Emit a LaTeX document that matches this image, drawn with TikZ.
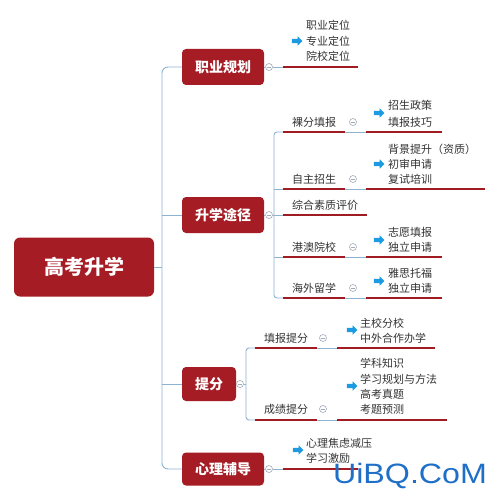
\documentclass[tikz,border=0pt]{standalone}
\usepackage{fontspec}
\setmainfont{Noto Sans CJK SC}
\newfontfamily\wmfont{Liberation Sans}
\usetikzlibrary{shapes.arrows}
\definecolor{boxred}{HTML}{A51C24}
\definecolor{linered}{HTML}{A01C22}
\definecolor{connblue}{HTML}{8DB3D3}
\definecolor{foldgray}{HTML}{A3AABA}
\definecolor{arrowblue}{HTML}{1E9BE0}
\definecolor{leafgray}{HTML}{333333}
\definecolor{wmblue}{HTML}{1F6FC8}
\tikzset{
  rootbox/.style={fill=boxred, rounded corners=6pt, text=white, inner sep=0pt,
    font=\bfseries\fontsize{20}{22}\selectfont, minimum width=140pt, minimum height=59pt},
  branchbox/.style={fill=boxred, rounded corners=4pt, text=white, inner sep=0pt,
    font=\bfseries\fontsize{14}{16}\selectfont, minimum width=82pt, minimum height=36pt},
  leaf/.style={anchor=west, inner sep=0pt, text=leafgray, font=\fontsize{11}{13}\selectfont},
  subitem/.style={inner sep=0pt, text=leafgray, font=\fontsize{11}{13}\selectfont},
  redline/.style={draw=linered, line width=2.5pt},
  conn/.style={draw=connblue, line width=0.9pt},
  fold/.style={circle, draw=foldgray, fill=white, line width=0.6pt, minimum size=7pt, inner sep=0pt,
    path picture={\draw[foldgray, line width=0.5pt]
      ([xshift=-1.8pt]path picture bounding box.center) -- ([xshift=1.8pt]path picture bounding box.center);}},
  blockarrow/.style={single arrow, fill=arrowblue, draw=none, inner xsep=0pt, inner ysep=2pt,
    minimum height=10.5pt, single arrow head extend=2.5pt, single arrow head indent=0pt},
}
\begin{document}
\begin{tikzpicture}[x=1pt,y=-1pt]
\useasboundingbox (0,0) rectangle (500,500);

% root and branches
\node[rootbox] (root) at (84,267) {高考升学};
\node[branchbox] (b1) at (223,67) {职业规划};
\node[branchbox] (b2) at (223,215) {升学途径};
\node[branchbox, minimum width=54pt, minimum height=34pt] (b3) at (209,384) {提分};
\node[branchbox, minimum height=33pt] (b4) at (223,469) {心理辅导};

\coordinate (trunk) at (162,267);
\draw[conn, rounded corners=6pt] (b1.west) -| (trunk) |- (b4.west);
\draw[conn] (root.east) -- (trunk);
\draw[conn] (b2.west) -- (b2.west -| trunk);
\draw[conn] (b3.west) -- (b3.west -| trunk);

% ---------- 职业规划 ----------
\node[fold] (f1) at (269,67) {};
\coordinate (u1s) at (283,67);
\coordinate (u1e) at (358,67);
\draw[conn] (b1.east) -- (f1);
\draw[conn] (f1) -- (u1s);
\draw[redline] (u1s) -- (u1e);
\node[blockarrow] (a1) at (296,41) {};
\node[leaf] (l11) at (306,25) {职业定位};
\node[leaf] (l12) at (306,41) {专业定位};
\node[leaf] (l13) at (306,56) {院校定位};

% ---------- 升学途径 ----------
\node[fold] (f2) at (269,215) {};
\coordinate (s21) at (283,132);
\coordinate (s22) at (283,189);
\coordinate (s23) at (283,215);
\coordinate (s24) at (283,257);
\coordinate (s25) at (283,298);
\coordinate (t2) at (274,215);
\draw[conn] (b2.east) -- (f2);
\draw[conn] (f2) -- (s23);
\draw[conn, rounded corners=3pt] (s21) -| (t2) |- (s25);
\draw[conn] (s22 -| t2) -- (s22);
\draw[conn] (s24 -| t2) -- (s24);

% 裸分填报
\node[subitem] (n21) at (314,122) {裸分填报};
\node[fold] (g21) at (353,122) {};
\coordinate (m21a) at (345,132); \coordinate (m21b) at (366,132); \coordinate (e21) at (442,132);
\draw[redline] (s21) -- (m21a);
\draw[conn] (m21a) -- (m21b);
\draw[redline] (m21b) -- (e21);
\node[blockarrow] (a21) at (378,113) {};
\node[leaf] (l211) at (388,105) {招生政策};
\node[leaf] (l212) at (388,122) {填报技巧};

% 自主招生
\node[subitem] (n22) at (314,179) {自主招生};
\node[fold] (g22) at (353,179) {};
\coordinate (m22a) at (345,189); \coordinate (m22b) at (366,189); \coordinate (e22) at (485,189);
\draw[redline] (s22) -- (m22a);
\draw[conn] (m22a) -- (m22b);
\draw[redline] (m22b) -- (e22);
\node[blockarrow] (a22) at (378,164) {};
\node[leaf] (l221) at (388,149) {背景提升（资质）};
\node[leaf] (l222) at (388,164) {初审申请};
\node[leaf] (l223) at (388,179) {复试培训};

% 综合素质评价
\node[subitem] (n23) at (325,205) {综合素质评价};
\coordinate (e23) at (367,215);
\draw[redline] (s23) -- (e23);

% 港澳院校
\node[subitem] (n24) at (314,247) {港澳院校};
\node[fold] (g24) at (353,247) {};
\coordinate (m24a) at (345,257); \coordinate (m24b) at (366,257); \coordinate (e24) at (442,257);
\draw[redline] (s24) -- (m24a);
\draw[conn] (m24a) -- (m24b);
\draw[redline] (m24b) -- (e24);
\node[blockarrow] (a24) at (378,240) {};
\node[leaf] (l241) at (388,232) {志愿填报};
\node[leaf] (l242) at (388,247) {独立申请};

% 海外留学
\node[subitem] (n25) at (314,288) {海外留学};
\node[fold] (g25) at (353,288) {};
\coordinate (m25a) at (345,298); \coordinate (m25b) at (366,298); \coordinate (e25) at (442,298);
\draw[redline] (s25) -- (m25a);
\draw[conn] (m25a) -- (m25b);
\draw[redline] (m25b) -- (e25);
\node[blockarrow] (a25) at (378,281) {};
\node[leaf] (l251) at (388,273) {雅思托福};
\node[leaf] (l252) at (388,288) {独立申请};

% ---------- 提分 ----------
\node[fold] (f3) at (240,384) {};
\coordinate (s31) at (255,348);
\coordinate (s32) at (255,420);
\coordinate (t3) at (246,384);
\draw[conn] (b3.east) -- (f3);
\draw[conn] (f3) -- (t3);
\draw[conn, rounded corners=3pt] (s31) -| (t3) |- (s32);

% 填报提分
\node[subitem] (n31) at (286,338) {填报提分};
\node[fold] (g31) at (323,338) {};
\coordinate (m31a) at (317,348); \coordinate (m31b) at (337,348); \coordinate (e31) at (435,348);
\draw[redline] (s31) -- (m31a);
\draw[conn] (m31a) -- (m31b);
\draw[redline] (m31b) -- (e31);
\node[blockarrow] (a31) at (351,330) {};
\node[leaf] (l311) at (360,323) {主校分校};
\node[leaf] (l312) at (360,338) {中外合作办学};

% 成绩提分
\node[subitem] (n32) at (286,409) {成绩提分};
\node[fold] (g32) at (323,409) {};
\coordinate (m32a) at (317,420); \coordinate (m32b) at (337,420); \coordinate (e32) at (447,420);
\draw[redline] (s32) -- (m32a);
\draw[conn] (m32a) -- (m32b);
\draw[redline] (m32b) -- (e32);
\node[blockarrow] (a32) at (351,386) {};
\node[leaf] (l321) at (360,363) {学科知识};
\node[leaf] (l322) at (360,379) {学习规划与方法};
\node[leaf] (l323) at (360,394) {高考真题};
\node[leaf] (l324) at (360,409) {考题预测};

% ---------- 心理辅导 ----------
\node[fold] (f4) at (269,469) {};
\coordinate (u4s) at (283,469);
\coordinate (u4e) at (358,469);
\draw[conn] (b4.east) -- (f4);
\draw[conn] (f4) -- (u4s);
\draw[redline] (u4s) -- (u4e);
\node[blockarrow] (a4) at (297,450) {};
\node[leaf] (l41) at (306,443) {心理焦虑减压};
\node[leaf] (l42) at (306,458) {学习激励};

% watermark
\node[inner sep=0pt, text=wmblue, font=\wmfont\fontsize{28}{30}\selectfont, xscale=1.15] (wm) at (410,476) {UiBQ.CoM};
\end{tikzpicture}
\end{document}
